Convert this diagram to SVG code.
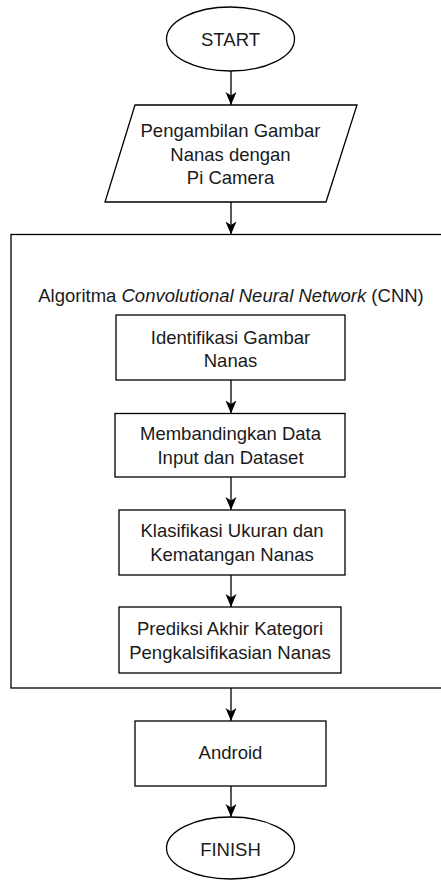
<svg xmlns="http://www.w3.org/2000/svg" width="441" height="881" viewBox="0 0 441 881">
  <style>
    .shape { fill: #ffffff; stroke: #000000; stroke-width: 1.3; }
    .label { font-family: "Liberation Sans", Arial, sans-serif; font-size: 18.5px; fill: #1a1a1a; text-anchor: middle; }
    .conn { fill: none; stroke: #000000; stroke-width: 1.3; marker-end: url(#arrow); }
  </style>
  <defs>
    <marker id="arrow" markerUnits="userSpaceOnUse" markerWidth="14" markerHeight="12" refX="13" refY="6" orient="auto">
      <path d="M0,0.5 L13,6 L0,11.5 L3.5,6 Z" fill="#000000" stroke="none"/>
    </marker>
  </defs>
  <rect width="441" height="881" fill="#ffffff"/>

  <g id="cnn-container">
    <rect class="shape" x="11" y="234.5" width="440" height="453.5"/>
    <text class="label" x="231" y="302">Algoritma <tspan font-style="italic">Convolutional Neural Network</tspan> (CNN)</text>
  </g>

  <g id="start">
    <ellipse class="shape" cx="230.5" cy="39" rx="64" ry="32"/>
    <text class="label" x="230.5" y="45.5">START</text>
  </g>

  <g id="capture">
    <polygon class="shape" points="135,105 357,105 326,202 105,202"/>
    <text class="label" x="230.5" y="137">Pengambilan Gambar</text>
    <text class="label" x="230.5" y="160.5">Nanas dengan</text>
    <text class="label" x="230.5" y="184">Pi Camera</text>
  </g>

  <g id="identify">
    <rect class="shape" x="116" y="315" width="229" height="65"/>
    <text class="label" x="230.5" y="343.5">Identifikasi Gambar</text>
    <text class="label" x="230.5" y="367">Nanas</text>
  </g>

  <g id="compare">
    <rect class="shape" x="115" y="413.5" width="230" height="63.5"/>
    <text class="label" x="230.5" y="440">Membandingkan Data</text>
    <text class="label" x="230.5" y="463.5">Input dan Dataset</text>
  </g>

  <g id="classify">
    <rect class="shape" x="119" y="510" width="226" height="65"/>
    <text class="label" x="232" y="537">Klasifikasi Ukuran dan</text>
    <text class="label" x="232" y="560.5">Kematangan Nanas</text>
  </g>

  <g id="predict">
    <rect class="shape" x="119" y="607" width="222" height="66"/>
    <text class="label" x="230" y="635">Prediksi Akhir Kategori</text>
    <text class="label" x="230" y="658.5">Pengkalsifikasian Nanas</text>
  </g>

  <g id="android">
    <rect class="shape" x="135" y="721" width="191" height="65"/>
    <text class="label" x="230.5" y="758.5">Android</text>
  </g>

  <g id="finish">
    <ellipse class="shape" cx="230.5" cy="848" rx="64" ry="31"/>
    <text class="label" x="230.5" y="855.5">FINISH</text>
  </g>

  <g id="connectors">
    <line class="conn" x1="231" y1="71" x2="231" y2="105"/>
    <line class="conn" x1="231" y1="202" x2="231" y2="234.5"/>
    <line class="conn" x1="231" y1="380" x2="231" y2="413.5"/>
    <line class="conn" x1="231" y1="477" x2="231" y2="510"/>
    <line class="conn" x1="231" y1="575" x2="231" y2="607"/>
    <line class="conn" x1="231" y1="688" x2="231" y2="721"/>
    <line class="conn" x1="231" y1="786" x2="231" y2="817"/>
  </g>
</svg>
